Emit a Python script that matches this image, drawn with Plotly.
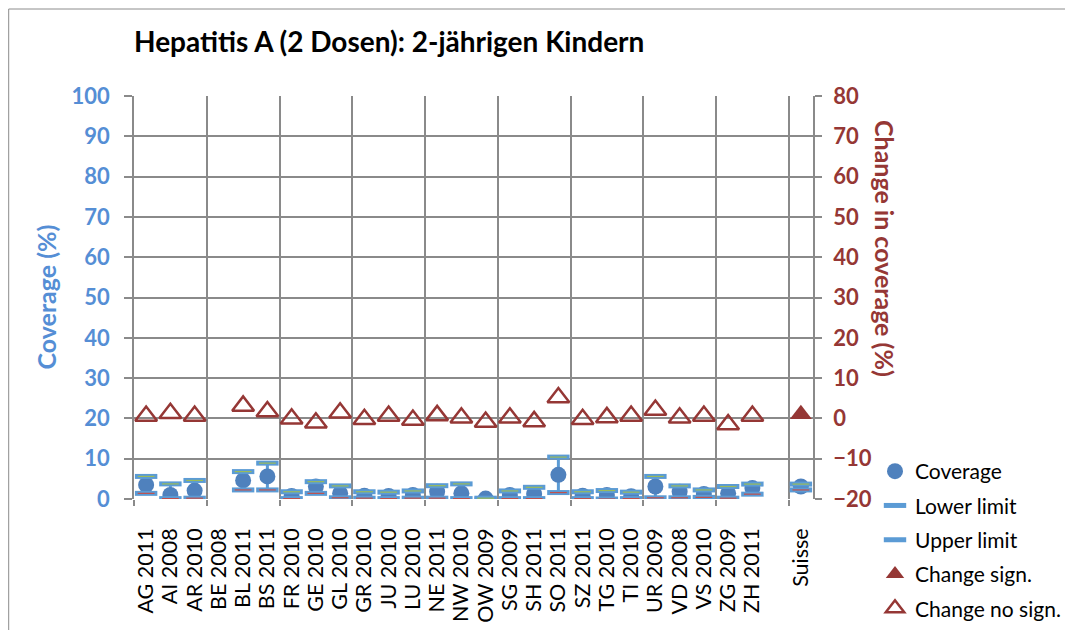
import plotly.graph_objects as go

# ---------------- data ----------------
categories = ["AG 2011", "AI 2008", "AR 2010", "BE 2008", "BL 2011", "BS 2011", "FR 2010",
              "GE 2010", "GL 2010", "GR 2010", "JU 2010", "LU 2010", "NE 2011", "NW 2010",
              "OW 2009", "SG 2009", "SH 2011", "SO 2011", "SZ 2011", "TG 2010", "TI 2010",
              "UR 2009", "VD 2008", "VS 2010", "ZG 2009", "ZH 2011", "", "Suisse"]

coverage = [3.5, 1.0, 2.1, None, 4.6, 5.6, 0.75, 3.1, 1.4, 0.8, 0.75, 1.0, 1.8, 1.4,
            0.1, 1.0, 1.25, 6.0, 0.8, 1.0, 0.7, 3.1, 1.8, 1.25, 1.4, 2.7, None, 3.1]
lower_limit = [1.4, 0.1, 0.2, None, 2.25, 2.25, 0.1, 1.4, 0.3, 0.2, 0.1, 0.2, 0.2, 0.1,
               0.0, 0.1, 0.1, 1.6, 0.1, 0.0, 0.1, 0.3, 0.3, 0.4, 0.2, 1.2, None, 2.25]
upper_limit = [5.6, 3.75, 4.6, None, 6.8, 8.9, 1.8, 4.3, 3.25, 1.8, 1.7, 2.0, 3.3, 3.75,
               0.2, 2.0, 2.9, 10.4, 1.8, 2.1, 1.7, 5.6, 3.25, 2.25, 3.1, 3.7, None, 3.7]
change_sign = [None] * 27 + [1.0]
change_no_sign = [0.6, 1.25, 0.6, None, 3.1, 1.7, -0.1, -1.1, 1.4, -0.2, 0.6, -0.4, 0.75, 0.15,
                  -0.9, 0.15, -0.75, 5.2, -0.2, 0.25, 0.6, 2.1, 0.15, 0.6, -1.5, 0.6, None, None]

left_ticks = list(range(0, 101, 10))
right_ticks = list(range(-20, 81, 10))

# ---------------- styling ----------------
FONT = "Lato"
BLUE = "#4F81BD"
LIGHTBLUE = "#5B9BD5"
AXBLUE = "#558ED5"
DARKRED = "#953735"
GRID = "#8A8A8A"

# the page body has an 8px margin, so the figure is sized to fit the window
W, H = 1065, 622
L, T, PW, PH = 126, 88, 679, 403

x = list(range(len(categories)))
err_plus = [None if (u is None or c is None) else u - c for u, c in zip(upper_limit, coverage)]
err_minus = [None if (l is None or c is None) else c - l for l, c in zip(lower_limit, coverage)]

fig = go.Figure()

# invisible trace to create the boundary-grid x axis
fig.add_trace(go.Scatter(x=[None], y=[None], xaxis="x2", yaxis="y", showlegend=False,
                         hoverinfo="skip"))

fig.add_trace(go.Scatter(
    x=x, y=coverage, mode="markers", name="Coverage", legendgroup="cov",
    marker=dict(symbol="circle", size=16, color=BLUE),
    error_y=dict(type="data", array=err_plus, arrayminus=err_minus, symmetric=False,
                 color=LIGHTBLUE, thickness=3, width=0),
))

fig.add_trace(go.Scatter(
    x=x, y=lower_limit, mode="markers", name="Lower limit", legendgroup="low",
    marker=dict(symbol="line-ew", size=16, line=dict(width=5, color=LIGHTBLUE)),
))
fig.add_trace(go.Scatter(
    x=x, y=lower_limit, mode="markers", name="Lower limit", legendgroup="low", showlegend=False,
    marker=dict(symbol="line-ew", size=12, line=dict(width=1.2, color="#C0504D")),
))
fig.add_trace(go.Scatter(
    x=x, y=upper_limit, mode="markers", name="Upper limit", legendgroup="up",
    marker=dict(symbol="line-ew", size=16, line=dict(width=5, color=LIGHTBLUE)),
))
fig.add_trace(go.Scatter(
    x=x, y=upper_limit, mode="markers", name="Upper limit", legendgroup="up", showlegend=False,
    marker=dict(symbol="line-ew", size=12, line=dict(width=1.2, color="#9BBB59")),
))

fig.add_trace(go.Scatter(
    x=x, y=change_sign, mode="markers", name="Change sign.", legendgroup="cs", yaxis="y2",
    marker=dict(symbol="triangle-up", size=19, color=DARKRED),
))
fig.add_trace(go.Scatter(
    x=x, y=change_no_sign, mode="markers", name="Change no sign.", legendgroup="cns", yaxis="y2",
    marker=dict(symbol="triangle-up-open", size=19, color=DARKRED, line=dict(width=2.5, color=DARKRED)),
))

fig.update_layout(
    width=W, height=H,
    margin=dict(l=L, r=W - L - PW, t=T, b=H - T - PH, autoexpand=False),
    paper_bgcolor="white", plot_bgcolor="white",
    font=dict(family=FONT, color="black"),
    title=dict(text="Hepatitis A (2 Dosen): 2-jährigen Kindern",
               x=126 / W, xref="container", xanchor="left", y=1 - 34 / H, yanchor="middle",
               pad=dict(l=0, r=0, t=0, b=0),
               font=dict(family=FONT, size=28, color="black", weight="bold")),
    xaxis=dict(range=[-0.5, len(categories) - 0.5], tickmode="array", tickvals=x, ticktext=categories,
               tickangle=-90, showgrid=False, zeroline=False, showline=False, automargin=False,
               ticks="", ticklabelstandoff=24,
               tickfont=dict(family=FONT, size=21.5, color="black")),
    xaxis2=dict(overlaying="x", anchor="y", range=[-0.5, len(categories) - 0.5], automargin=False,
                tickmode="linear", tick0=-0.5, dtick=3, showgrid=True, gridcolor=GRID, gridwidth=1.5,
                showticklabels=False, ticks="outside", ticklen=6, tickcolor=GRID, tickwidth=1.5,
                zeroline=False, showline=False),
    yaxis=dict(range=[0, 100], tickmode="array", tickvals=left_ticks, showgrid=True, automargin=False,
               gridcolor=GRID, gridwidth=1.5, zeroline=False,
               showline=True, linecolor=GRID, linewidth=1.5,
               ticks="outside", ticklen=8, tickcolor=GRID, tickwidth=1.5, ticklabelstandoff=10,
               tickfont=dict(family=FONT, size=22, color=AXBLUE, weight="bold")),
    yaxis2=dict(range=[-20, 80], overlaying="y", side="right", tickmode="array", tickvals=right_ticks,
                showgrid=False, zeroline=False, showline=True, linecolor=GRID, linewidth=1.5,
                automargin=False,
                ticks="outside", ticklen=7, tickcolor=GRID, tickwidth=1.5, ticklabelstandoff=7,
                tickfont=dict(family=FONT, size=22, color=DARKRED, weight="bold")),
    legend=dict(x=(875 - 134) / PW, y=(499 - 451) / PH, xanchor="left", yanchor="top",
                font=dict(family=FONT, size=21, color="black"), tracegroupgap=4,
                bgcolor="rgba(0,0,0,0)", itemsizing="trace"),
    showlegend=True,
    annotations=[
        dict(text="Coverage (%)", xref="paper", yref="paper", x=(45 - 134) / PW, y=0.5,
             xanchor="center", yanchor="middle", textangle=-90, showarrow=False,
             font=dict(family=FONT, size=25, color=AXBLUE, weight="bold")),
        dict(text="Change in coverage (%)", xref="paper", yref="paper",
             x=(885 - 134) / PW, y=(499 - 248) / PH,
             xanchor="center", yanchor="middle", textangle=90, showarrow=False,
             font=dict(family=FONT, size=25, color=DARKRED, weight="bold")),
    ],
    shapes=[
        dict(type="rect", xref="paper", yref="paper",
             x0=(8.7 - 134) / PW, x1=(1090 - 134) / PW, y0=(499 - 650) / PH, y1=(499 - 9) / PH,
             line=dict(color="#8C8C8C", width=1), fillcolor="rgba(0,0,0,0)", layer="below"),
    ],
)

fig.write_html("out.html")
